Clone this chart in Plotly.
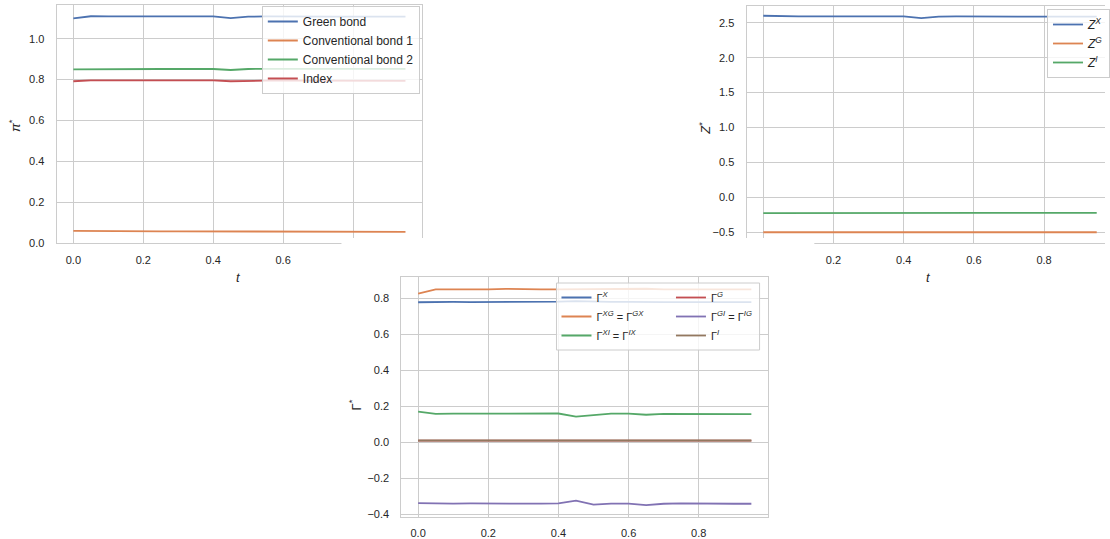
import plotly.graph_objects as go

# ---------------- data ----------------
t = [0.00, 0.05, 0.10, 0.15, 0.20, 0.25, 0.30, 0.35, 0.40, 0.45,
     0.50, 0.55, 0.60, 0.65, 0.70, 0.75, 0.80, 0.85, 0.90, 0.95]

# panel 1: pi*
green_bond = [1.100, 1.110, 1.109, 1.109, 1.109, 1.110, 1.109, 1.109, 1.109, 1.101,
              1.108, 1.109, 1.108, 1.108, 1.108, 1.108, 1.108, 1.108, 1.108, 1.108]
conv_bond_1 = [0.060, 0.059, 0.059, 0.058, 0.058, 0.058, 0.058, 0.058, 0.058, 0.056,
               0.057, 0.057, 0.057, 0.056, 0.056, 0.056, 0.056, 0.056, 0.055, 0.055]
conv_bond_2 = [0.850, 0.851, 0.851, 0.851, 0.852, 0.852, 0.852, 0.852, 0.852, 0.847,
               0.852, 0.853, 0.853, 0.853, 0.853, 0.853, 0.853, 0.853, 0.853, 0.853]
index_w = [0.792, 0.796, 0.796, 0.796, 0.796, 0.797, 0.797, 0.796, 0.796, 0.792,
           0.795, 0.795, 0.795, 0.795, 0.795, 0.795, 0.795, 0.795, 0.794, 0.794]

# panel 2: Z*
z_x = [2.600, 2.590, 2.590, 2.590, 2.590, 2.590, 2.590, 2.590, 2.590, 2.565,
       2.588, 2.590, 2.588, 2.585, 2.588, 2.588, 2.588, 2.588, 2.588, 2.588]
z_g = [-0.500, -0.500, -0.500, -0.500, -0.500, -0.500, -0.500, -0.500, -0.500, -0.490,
       -0.500, -0.500, -0.500, -0.500, -0.500, -0.500, -0.500, -0.500, -0.500, -0.500]
z_i = [-0.225, -0.224, -0.224, -0.224, -0.224, -0.224, -0.224, -0.224, -0.223, -0.218,
       -0.222, -0.222, -0.222, -0.222, -0.222, -0.222, -0.222, -0.222, -0.222, -0.221]

# panel 3: Gamma*
g_x = [0.778, 0.780, 0.780, 0.779, 0.779, 0.778, 0.781, 0.781, 0.781, 0.784,
       0.780, 0.780, 0.780, 0.778, 0.779, 0.779, 0.779, 0.779, 0.779, 0.779]
g_xg = [0.826, 0.850, 0.850, 0.849, 0.850, 0.852, 0.849, 0.850, 0.850, 0.851,
        0.848, 0.850, 0.850, 0.853, 0.849, 0.850, 0.850, 0.850, 0.849, 0.849]
g_xi = [0.170, 0.157, 0.158, 0.158, 0.159, 0.159, 0.159, 0.159, 0.159, 0.142,
        0.152, 0.158, 0.158, 0.152, 0.157, 0.157, 0.159, 0.155, 0.157, 0.156]
g_g = [0.008] * 20
g_gi = [-0.339, -0.342, -0.342, -0.341, -0.340, -0.340, -0.342, -0.342, -0.341, -0.326,
        -0.348, -0.342, -0.342, -0.351, -0.343, -0.341, -0.343, -0.345, -0.343, -0.343]
g_i = [0.009] * 20

# ---------------- style ----------------
W, H = 1110, 539
FONT = "Arial, Liberation Sans, sans-serif"
TXT = "#262626"
GRID = "#cccccc"
C = ["#4c72b0", "#dd8452", "#55a868", "#c44e52", "#8172b3", "#937860"]
LW = 1.8


def fx(p):
    return p / W


def fy(p):
    return 1 - p / H


fig = go.Figure()

# panel 1
for name, ys, col in [("Green bond", green_bond, C[0]),
                      ("Conventional bond 1", conv_bond_1, C[1]),
                      ("Conventional bond 2", conv_bond_2, C[2]),
                      ("Index", index_w, C[3])]:
    fig.add_trace(go.Scatter(x=t, y=ys, mode="lines", name=name,
                             line=dict(color=col, width=LW),
                             xaxis="x", yaxis="y", legend="legend"))

# panel 2
for name, ys, col in [("<i>Z</i><sup><i>X</i></sup>", z_x, C[0]),
                      ("<i>Z</i><sup><i>G</i></sup>", z_g, C[1]),
                      ("<i>Z</i><sup><i>I</i></sup>", z_i, C[2])]:
    fig.add_trace(go.Scatter(x=t, y=ys, mode="lines", name=name,
                             line=dict(color=col, width=LW),
                             xaxis="x2", yaxis="y2", legend="legend2"))

# cover subplot (white inset background)
fig.add_trace(go.Scatter(x=[], y=[], mode="lines", showlegend=False,
                         hoverinfo="skip", xaxis="x3", yaxis="y3"))

# panel 3
for name, ys, col, lg in [("Γ<sup><i>X</i></sup>", g_x, C[0], "legend3"),
                          ("Γ<sup><i>XG</i></sup> = Γ<sup><i>GX</i></sup>", g_xg, C[1], "legend3"),
                          ("Γ<sup><i>XI</i></sup> = Γ<sup><i>IX</i></sup>", g_xi, C[2], "legend3"),
                          ("Γ<sup><i>G</i></sup>", g_g, C[3], "legend4"),
                          ("Γ<sup><i>GI</i></sup> = Γ<sup><i>IG</i></sup>", g_gi, C[4], "legend4"),
                          ("Γ<sup><i>I</i></sup>", g_i, C[5], "legend4")]:
    fig.add_trace(go.Scatter(x=t, y=ys, mode="lines", name=name,
                             line=dict(color=col, width=LW),
                             xaxis="x4", yaxis="y4", legend=lg))

axis_common = dict(showgrid=True, gridcolor=GRID, gridwidth=1, zeroline=False,
                   showline=True, linecolor=GRID, linewidth=1.25,
                   ticks="outside", tickcolor="rgba(0,0,0,0)",
                   tickfont=dict(family=FONT, size=11, color=TXT),
                   tickformat=".1f", automargin=False)

xt = [0.0, 0.2, 0.4, 0.6, 0.8]
TFONT = dict(size=13, family=FONT, color=TXT)

fig.update_layout(
    width=W, height=H,
    margin=dict(l=0, r=0, t=0, b=0),
    paper_bgcolor="white", plot_bgcolor="white",
    font=dict(family=FONT, color=TXT),
    xaxis=dict(axis_common, domain=[fx(57), fx(424)], range=[-0.0475, 0.9975],
               tickvals=xt, mirror=True, anchor="y", ticklen=6),
    yaxis=dict(axis_common, domain=[fy(243.3), fy(5)], range=[-0.0008, 1.165],
               tickvals=[0.0, 0.2, 0.4, 0.6, 0.8, 1.0], mirror=True, anchor="x", ticklen=9),
    xaxis2=dict(axis_common, domain=[fx(750), 1.0], range=[-0.0475, 0.9736],
                tickvals=xt, mirror=True, anchor="y2", ticklen=6),
    yaxis2=dict(axis_common, domain=[fy(243.3), fy(5.7)], range=[-0.658, 2.744],
                tickvals=[-0.5, 0.0, 0.5, 1.0, 1.5, 2.0, 2.5], mirror=False, anchor="x2", ticklen=9),
    xaxis3=dict(domain=[fx(343), fx(818)], visible=False, anchor="y3", range=[0, 1]),
    yaxis3=dict(domain=[0, fy(238)], visible=False, anchor="x3", range=[0, 1]),
    xaxis4=dict(axis_common, domain=[fx(403.3), fx(771.5)], range=[-0.0475, 0.9975],
                tickvals=xt, mirror=True, anchor="y4", ticklen=6),
    yaxis4=dict(axis_common, domain=[fy(516.7), fy(276.7)], range=[-0.415, 0.92],
                tickvals=[-0.4, -0.2, 0.0, 0.2, 0.4, 0.6, 0.8], mirror=True, anchor="x4", ticklen=9),
    legend=dict(x=fx(263), y=fy(6), xanchor="left", yanchor="top",
                bgcolor="rgba(255,255,255,0.8)", bordercolor=GRID, borderwidth=1,
                font=dict(size=12, family=FONT, color=TXT)),
    legend2=dict(x=fx(1052), y=fy(9), xanchor="left", yanchor="top",
                 bgcolor="rgba(255,255,255,0.8)", bordercolor=GRID, borderwidth=1,
                 font=dict(size=12, family=FONT, color=TXT)),
    legend3=dict(x=fx(559), y=fy(283), xanchor="left", yanchor="top",
                 bgcolor="rgba(0,0,0,0)", borderwidth=0,
                 font=dict(size=11, family=FONT, color=TXT)),
    legend4=dict(x=fx(674), y=fy(283), xanchor="left", yanchor="top",
                 bgcolor="rgba(0,0,0,0)", borderwidth=0,
                 font=dict(size=11, family=FONT, color=TXT)),
    shapes=[dict(type="rect", xref="paper", yref="paper",
                 x0=fx(559), x1=fx(763), y0=fy(350), y1=fy(283),
                 fillcolor="rgba(255,255,255,0.8)", line=dict(color=GRID, width=1),
                 layer="above")],
    annotations=[
        dict(text="<i>t</i>", x=fx(240), y=fy(277), xref="paper", yref="paper",
             showarrow=False, font=TFONT, xanchor="center", yanchor="middle"),
        dict(text="<i>t</i>", x=fx(933), y=fy(277), xref="paper", yref="paper",
             showarrow=False, font=TFONT, xanchor="center", yanchor="middle"),
        dict(text="<i>π</i><sup>*</sup>", x=fx(15), y=fy(125), xref="paper", yref="paper",
             showarrow=False, font=TFONT, textangle=-90, xanchor="center", yanchor="middle"),
        dict(text="<i>Z</i><sup>*</sup>", x=fx(708), y=fy(128), xref="paper", yref="paper",
             showarrow=False, font=TFONT, textangle=-90, xanchor="center", yanchor="middle"),
        dict(text="Γ<sup>*</sup>", x=fx(357), y=fy(405), xref="paper", yref="paper",
             showarrow=False, font=TFONT, textangle=-90, xanchor="center", yanchor="middle"),
    ],
    showlegend=True,
)

fig.write_html("out.html", config={"displayModeBar": False},
               post_script="document.body.style.margin='0';document.body.style.overflow='hidden';")
